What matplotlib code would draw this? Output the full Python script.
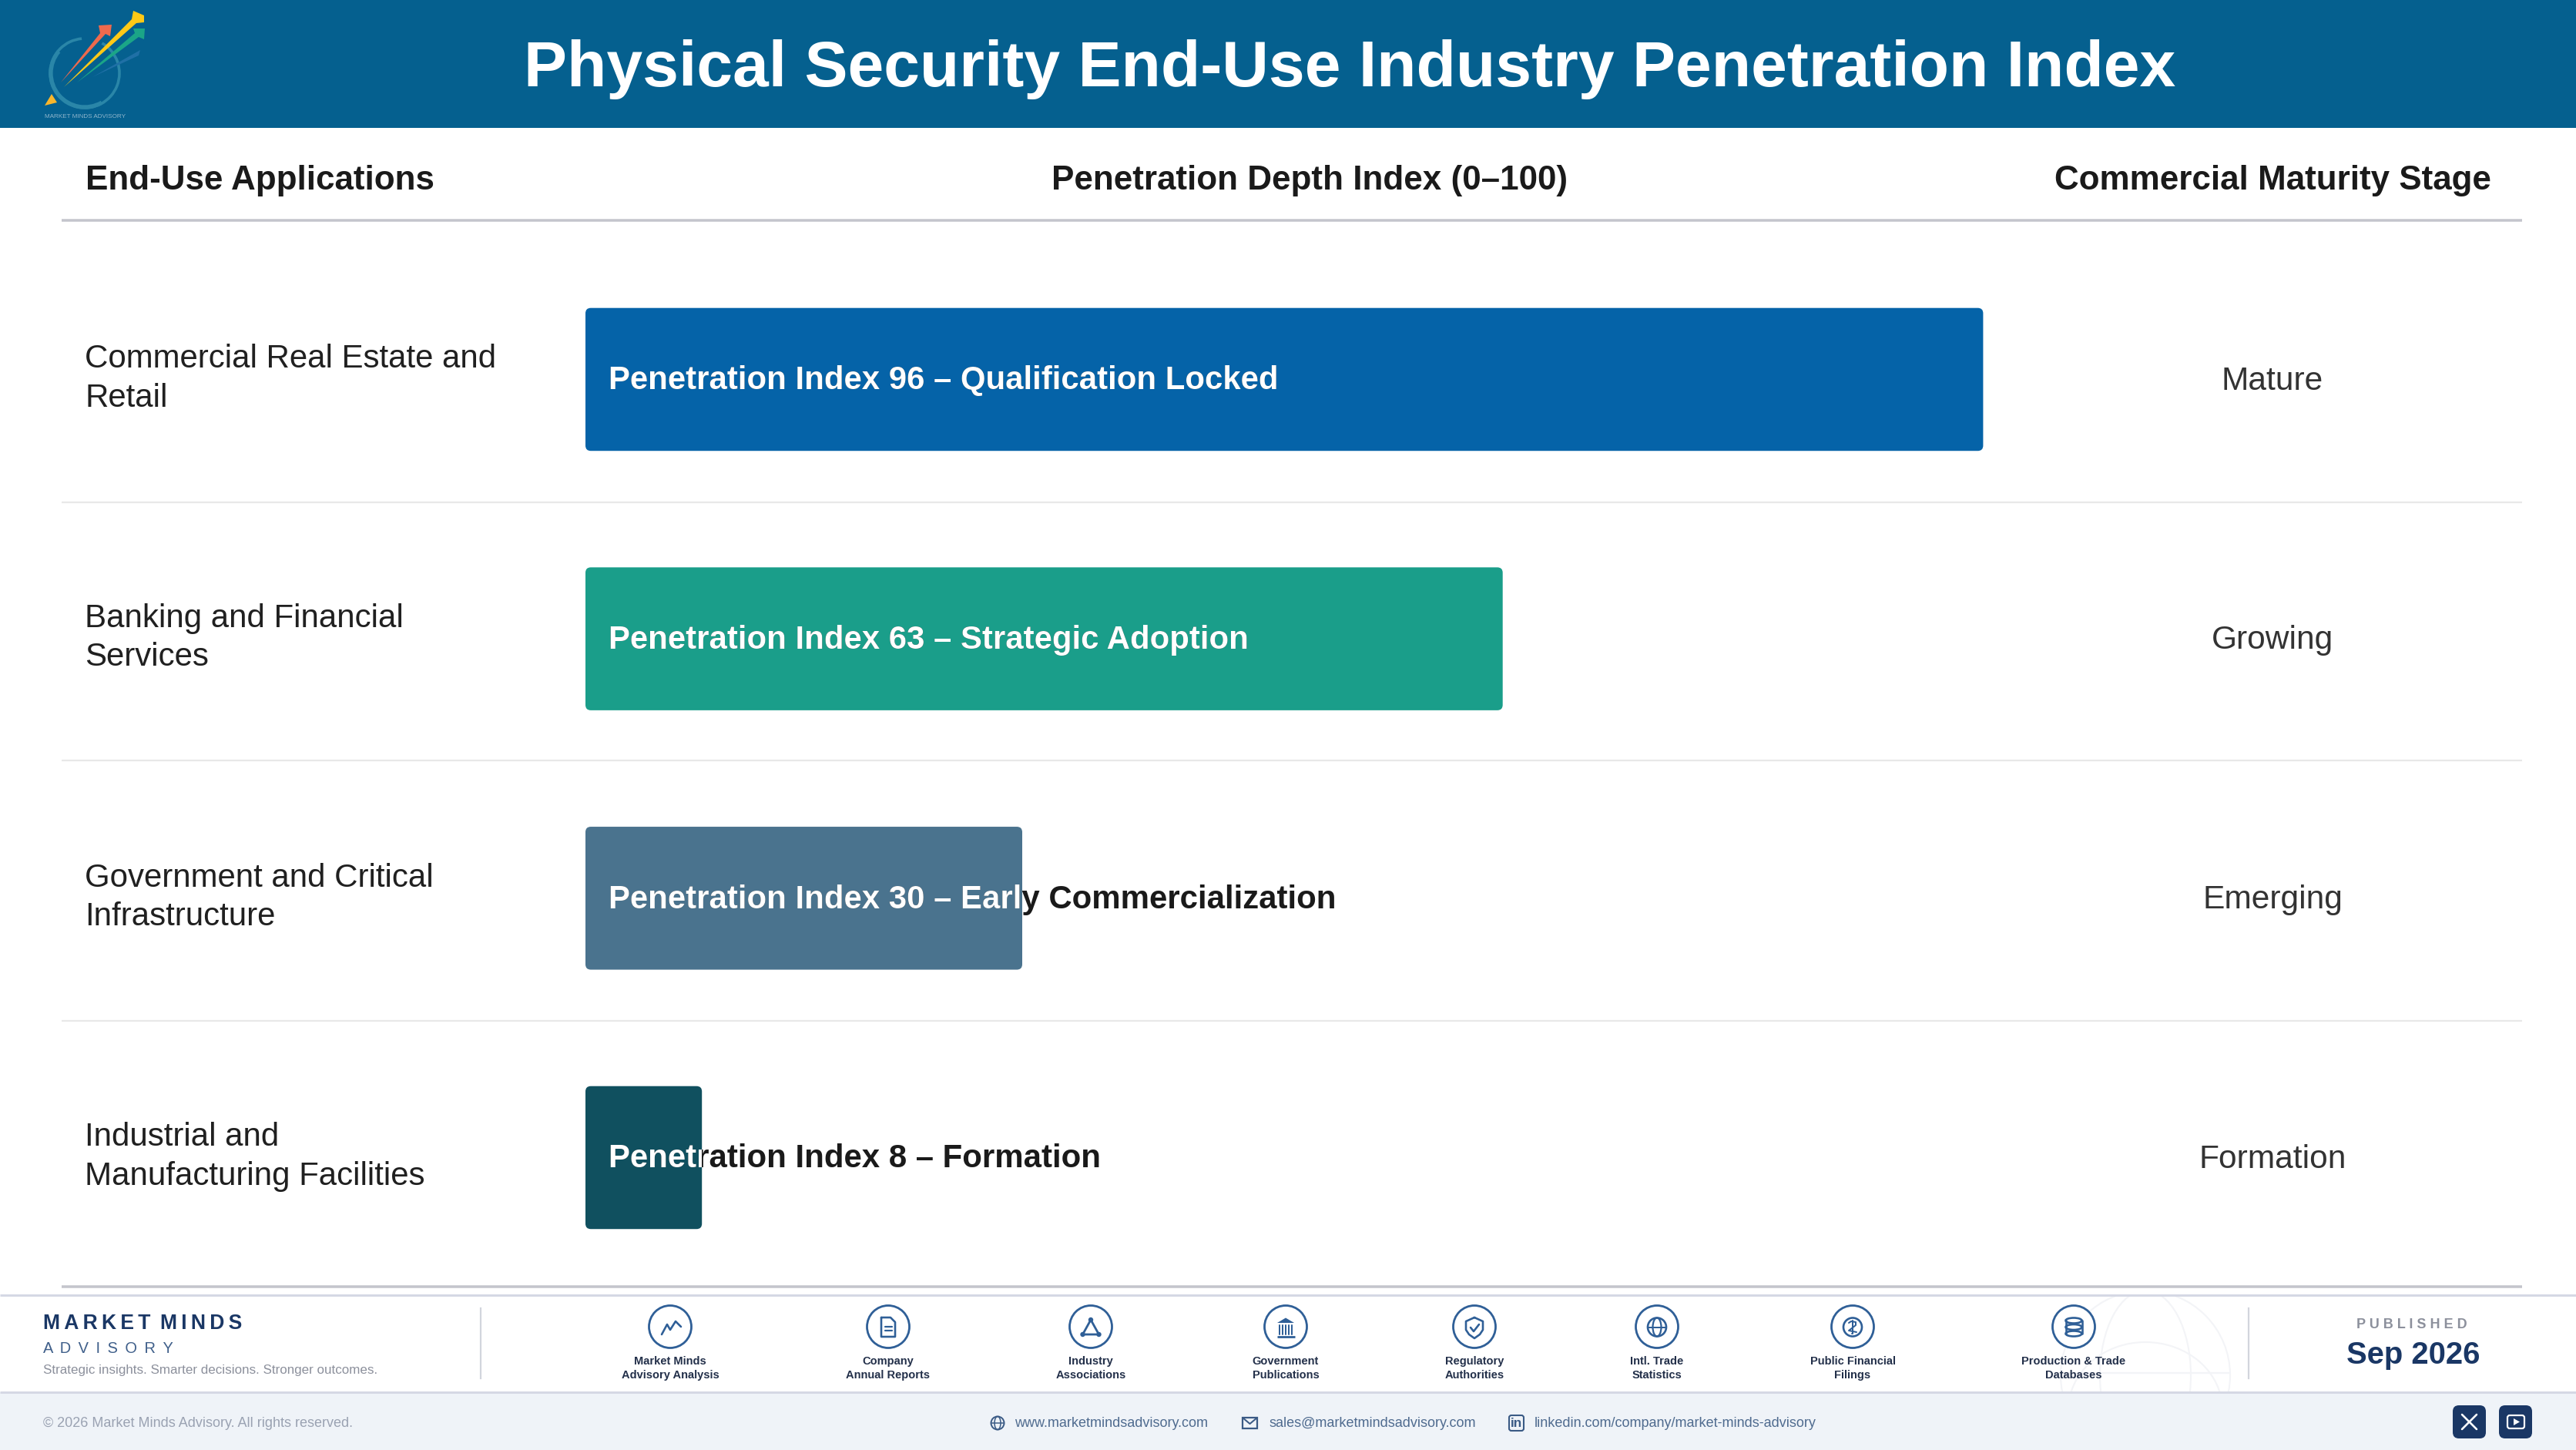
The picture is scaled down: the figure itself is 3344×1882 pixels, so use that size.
"""Physical security end-use penetration index slide, rebuilt with matplotlib."""

import matplotlib
matplotlib.use("Agg")
import matplotlib.pyplot as plt
from matplotlib.patches import Arc, Circle, Ellipse, FancyBboxPatch, Polygon, Rectangle

W, H = 3344, 1882

TITLE = "Physical Security End-Use Industry Penetration Index"
COLUMN_HEADS = ["End-Use Applications", "Penetration Depth Index (0–100)", "Commercial Maturity Stage"]
APPLICATIONS = [
    "Commercial Real Estate and\nRetail",
    "Banking and Financial\nServices",
    "Government and Critical\nInfrastructure",
    "Industrial and\nManufacturing Facilities",
]
INDEX_VALUES = [96, 63, 30, 8]
ADOPTION_LABELS = ["Qualification Locked", "Strategic Adoption", "Early Commercialization", "Formation"]
STAGES = ["Mature", "Growing", "Emerging", "Formation"]
BAR_COLORS = ["#0563A8", "#1A9E8A", "#4A738E", "#10505F"]
SOURCES = [
    "Market Minds\nAdvisory Analysis", "Company\nAnnual Reports", "Industry\nAssociations",
    "Government\nPublications", "Regulatory\nAuthorities", "Intl. Trade\nStatistics",
    "Public Financial\nFilings", "Production & Trade\nDatabases",
]

NAVY = "#1A3765"
ICON = "#2F5F97"
DARK = "#1A1A1A"

plt.rcParams["font.family"] = ["Liberation Sans", "DejaVu Sans"]

fig = plt.figure(figsize=(W / 100, H / 100), dpi=100, facecolor="white")

# whole-page axes in pixels, for the slide furniture
page = fig.add_axes([0, 0, 1, 1], zorder=1)
page.set_xlim(0, W)
page.set_ylim(H, 0)
page.axis("off")


def txt(x, y, s, px, color=DARK, weight="normal", ha="left", z=6, **kw):
    return page.text(x, y, s, fontsize=px * 0.72, color=color, fontweight=weight,
                     ha=ha, va="center", zorder=z, **kw)


def hline(y, x0, x1, color, px, z=4):
    page.plot([x0, x1], [y, y], color=color, lw=px * 0.72, solid_capstyle="butt", zorder=z)


def stroke(xs, ys, px=2.6, color=ICON, z=6):
    page.plot(xs, ys, color=color, lw=px * 0.72, solid_capstyle="round", solid_joinstyle="round", zorder=z)


# header band
page.add_patch(Rectangle((0, 0), W, 166, fc="#05608F", ec="none", zorder=2))
txt(1752, 90, TITLE, 84, color="white", weight="bold", ha="center")

# logo
page.add_patch(Arc((110, 95), 90, 90, theta1=-60, theta2=265, ec="#2A86A8", lw=2.6, zorder=3))
page.add_patch(Arc((110, 95), 88, 88, theta1=60, theta2=220, ec="#2A86A8", lw=3.8, zorder=3))
page.add_patch(Polygon([(79, 107), (130, 43), (128, 33), (145, 32), (143, 47), (137, 44)], fc="#EE6A4D", ec="none", zorder=4))
page.add_patch(Polygon([(83, 113), (171, 25), (173, 14), (187, 20), (187, 29), (177, 30)], fc="#FFC916", ec="none", zorder=5))
page.add_patch(Polygon([(100, 107), (175, 43), (173, 37), (188, 37), (187, 51), (180, 48)], fc="#1BA587", ec="none", zorder=4))
page.add_patch(Polygon([(120, 100), (182, 65), (180, 72)], fc="#1F70A6", ec="none", zorder=3))
page.add_patch(Polygon([(58, 137), (67, 122), (74, 133)], fc="#F8B62C", ec="none", zorder=4))
txt(58, 151, "MARKET MINDS ADVISORY", 8.2, color="#8FB6CC", z=4)

# column heads and rules
txt(111, 234, COLUMN_HEADS[0], 44, weight="bold")
txt(1700, 234, COLUMN_HEADS[1], 44, weight="bold", ha="center")
txt(2950, 234, COLUMN_HEADS[2], 44, weight="bold", ha="center")
hline(286, 80, 3274, "#C4C5CC", 3.5)
for y in (652, 987, 1325):
    hline(y, 80, 3274, "#E8E8E8", 2.2)
hline(1670, 80, 3274, "#C4C5CC", 3.5)

# bars live on their own axes: 0-100 across 1890 px, one category per 336.67 px
bar_ax = fig.add_axes([760 / W, 1 - 1670.8 / H, 1890 / W, 1346.67 / H], zorder=2)
bar_ax.set_xlim(0, 100)
bar_ax.set_ylim(3.5, -0.5)
bar_ax.axis("off")
bar_ax.patch.set_alpha(0)

rows = list(range(len(INDEX_VALUES)))
bars = bar_ax.barh(rows, INDEX_VALUES, height=0.551, left=0)
corner_x = 7 / 18.9
corner_aspect = (7 / 336.67) / corner_x
for row, rect, value, note, colour, app, stage in zip(rows, bars, INDEX_VALUES, ADOPTION_LABELS, BAR_COLORS, APPLICATIONS, STAGES):
    rect.set_visible(False)
    box = FancyBboxPatch((rect.get_x(), rect.get_y()), rect.get_width(), rect.get_height(),
                         boxstyle=f"round,pad=0,rounding_size={corner_x}",
                         mutation_aspect=corner_aspect, fc=colour, ec="none", zorder=2)
    bar_ax.add_patch(box)
    label = f"Penetration Index {value} – {note}"
    bar_ax.text(1.59, row + 0.006, label, fontsize=42 * 0.72, fontweight="bold", color=DARK,
                va="center", zorder=3, clip_on=False)
    # Agg only honours rectangular clips on text, so clip to the plain bar
    white = bar_ax.text(1.59, row + 0.006, label, fontsize=42 * 0.72, fontweight="bold", color="white",
                        va="center", zorder=4)
    white.set_clip_on(True)
    white.set_clip_path(rect)

    y_mid = 492.5 + 336.67 * row
    txt(110, y_mid - 1, app, 42, color="#202020", linespacing=1.33)
    txt(2950, y_mid + 2, stage, 42.5, color="#333333", ha="center")

# footer: globe watermark first, bands cover its overflow
page.add_patch(Rectangle((0, 1807), W, H - 1807, fc="#EFF3F8", ec="none", zorder=3))
page.add_patch(Rectangle((0, 1672), W, 9, fc="white", ec="none", zorder=3))
for w, h in ((220, 220), (118, 220)):
    page.add_patch(Ellipse((2785, 1785), w, h, fc="none", ec="#F3F4F7", lw=1.5, zorder=2))
page.add_patch(Arc((2785, 1830), 200, 176, theta1=180, theta2=360, ec="#F3F4F7", lw=1.5, zorder=2))
hline(1782, 2675, 2895, "#F3F4F7", 2.2, z=2)
hline(1681, 0, W, "#D5D8E4", 3, z=4)
hline(1807, 0, W, "#D5D8E4", 3, z=4)
page.plot([624, 624], [1698, 1789], color="#D2D5DD", lw=1.6, zorder=4)
page.plot([2919, 2919], [1698, 1789], color="#D2D5DD", lw=1.6, zorder=4)

txt(56, 1718, "M\u2009A\u2009R\u2009K\u2009E\u2009T\u2009 M\u2009I\u2009N\u2009D\u2009S", 26.5, color=NAVY, weight="bold")
txt(56, 1751, "A \u2009D \u2009V \u2009I \u2009S \u2009O \u2009R \u2009Y", 20, color="#3F5F8A")
txt(56, 1778, "Strategic insights. Smarter decisions. Stronger outcomes.", 17.05, color="#8C909C")
txt(3131, 1720, "P U B L I S H E D", 18, color="#8C909C", weight="bold", ha="center")
txt(3133, 1759, "Sep 2026", 40, color=NAVY, weight="bold", ha="center")

# source icons
ICON_X = [870, 1153, 1416, 1669, 1914, 2151, 2405, 2692]
ICON_Y = 1722
for cx, src in zip(ICON_X, SOURCES):
    page.add_patch(Circle((cx, ICON_Y), 27.5, fc="white", ec=ICON, lw=2.0, zorder=5))
    txt(cx, 1776, src, 14.6, color="#23304A", weight="bold", ha="center", linespacing=1.4)

# market minds: zigzag
stroke([859, 866, 870, 877, 884], [1732, 1719, 1726, 1715, 1722])
# document
cx = ICON_X[1]
stroke([cx - 9, cx + 3, cx + 9, cx + 9, cx - 9, cx - 9], [1710, 1710, 1716, 1735, 1735, 1710])
stroke([cx - 4, cx + 5], [1722, 1722], px=2.2)
stroke([cx - 4, cx + 5], [1727, 1727], px=2.2)
# network triangle
cx = ICON_X[2]
stroke([cx, cx - 10.5, cx + 10.5, cx], [1713, 1732, 1732, 1713], px=2.8)
for dx, y in ((0, 1713), (-10.5, 1732), (10.5, 1732)):
    page.add_patch(Circle((cx + dx, y), 3.2, fc=ICON, ec="none", zorder=6))
# government building
cx = ICON_X[3]
page.add_patch(Polygon([(cx, 1710.5), (cx + 11, 1717), (cx - 11, 1717)], fc=ICON, ec="none", zorder=6))
for dx in (-8, -4, 0, 4, 8):
    stroke([cx + dx, cx + dx], [1720, 1732], px=2)
hline(1735, cx - 11.5, cx + 11.5, ICON, 2.8, z=6)
# shield with tick
cx = ICON_X[4]
stroke([cx, cx + 11, cx + 11, cx + 7, cx, cx - 7, cx - 11, cx - 11, cx],
       [1710, 1715, 1726, 1732, 1737, 1732, 1726, 1715, 1710])
stroke([cx - 5, cx - 1, cx + 6], [1723, 1728, 1719])
# globe
cx = ICON_X[5]
page.add_patch(Circle((cx, 1722.5), 12, fc="none", ec=ICON, lw=1.9, zorder=6))
page.add_patch(Ellipse((cx, 1722.5), 11, 24, fc="none", ec=ICON, lw=1.6, zorder=6))
hline(1722.5, cx - 12, cx + 12, ICON, 2, z=6)
# coin
cx = ICON_X[6]
page.add_patch(Circle((cx, 1722.5), 12, fc="none", ec=ICON, lw=1.9, zorder=6))
stroke([cx, cx, cx - 1], [1714, 1731, 1731], px=2)
stroke([cx - 5, cx - 2, cx + 4, cx + 4, cx - 5, cx + 5], [1717, 1715, 1716, 1720, 1727, 1729], px=2)
# database
cx = ICON_X[7]
for y in (1714, 1722.5, 1731):
    page.add_patch(Ellipse((cx, y), 21, 7, fc="white", ec=ICON, lw=1.9, zorder=6))
stroke([cx - 10.5, cx - 10.5], [1714, 1731])
stroke([cx + 10.5, cx + 10.5], [1714, 1731])

# contact strip
txt(56, 1848, "© 2026 Market Minds Advisory. All rights reserved.", 18, color="#9AA2B2")
CONTACT = "#4F6B8F"
txt(1317, 1848, "www.marketmindsadvisory.com", 18, color=CONTACT)
txt(1647, 1848, "sales@marketmindsadvisory.com", 18, color=CONTACT)
txt(1992, 1848, "linkedin.com/company/market-minds-advisory", 18, color=CONTACT)
ICON2 = "#3A5A85"
page.add_patch(Circle((1295, 1847), 8.5, fc="none", ec=ICON2, lw=1.4, zorder=6))
page.add_patch(Ellipse((1295, 1847), 8, 17, fc="none", ec=ICON2, lw=1.1, zorder=6))
hline(1847, 1286.5, 1303.5, ICON2, 1.5, z=6)
page.add_patch(Rectangle((1613, 1840), 19, 14, fc="none", ec=ICON2, lw=1.6, zorder=6))
stroke([1613, 1622.5, 1632], [1840, 1848, 1840], px=2, color=ICON2)
page.add_patch(FancyBboxPatch((1959, 1837), 19, 20, boxstyle="round,pad=0,rounding_size=3",
                              fc="none", ec=ICON2, lw=1.5, zorder=6))
txt(1968.5, 1848, "in", 17, color=ICON2, weight="bold", ha="center")

for x0 in (3184, 3244):
    page.add_patch(FancyBboxPatch((x0, 1824), 43, 43, boxstyle="round,pad=0,rounding_size=8",
                                  fc=NAVY, ec="none", zorder=6))
stroke([3196, 3215], [1836, 1855], px=2.6, color="white", z=7)
stroke([3215, 3196], [1836, 1855], px=2.6, color="white", z=7)
page.add_patch(FancyBboxPatch((3255, 1837), 22, 17, boxstyle="round,pad=0,rounding_size=3",
                              fc="none", ec="white", lw=1.6, zorder=7))
page.add_patch(Polygon([(3263, 1841), (3271, 1845.5), (3263, 1850)], fc="white", ec="none", zorder=7))

fig.savefig("out.png", dpi=100)
